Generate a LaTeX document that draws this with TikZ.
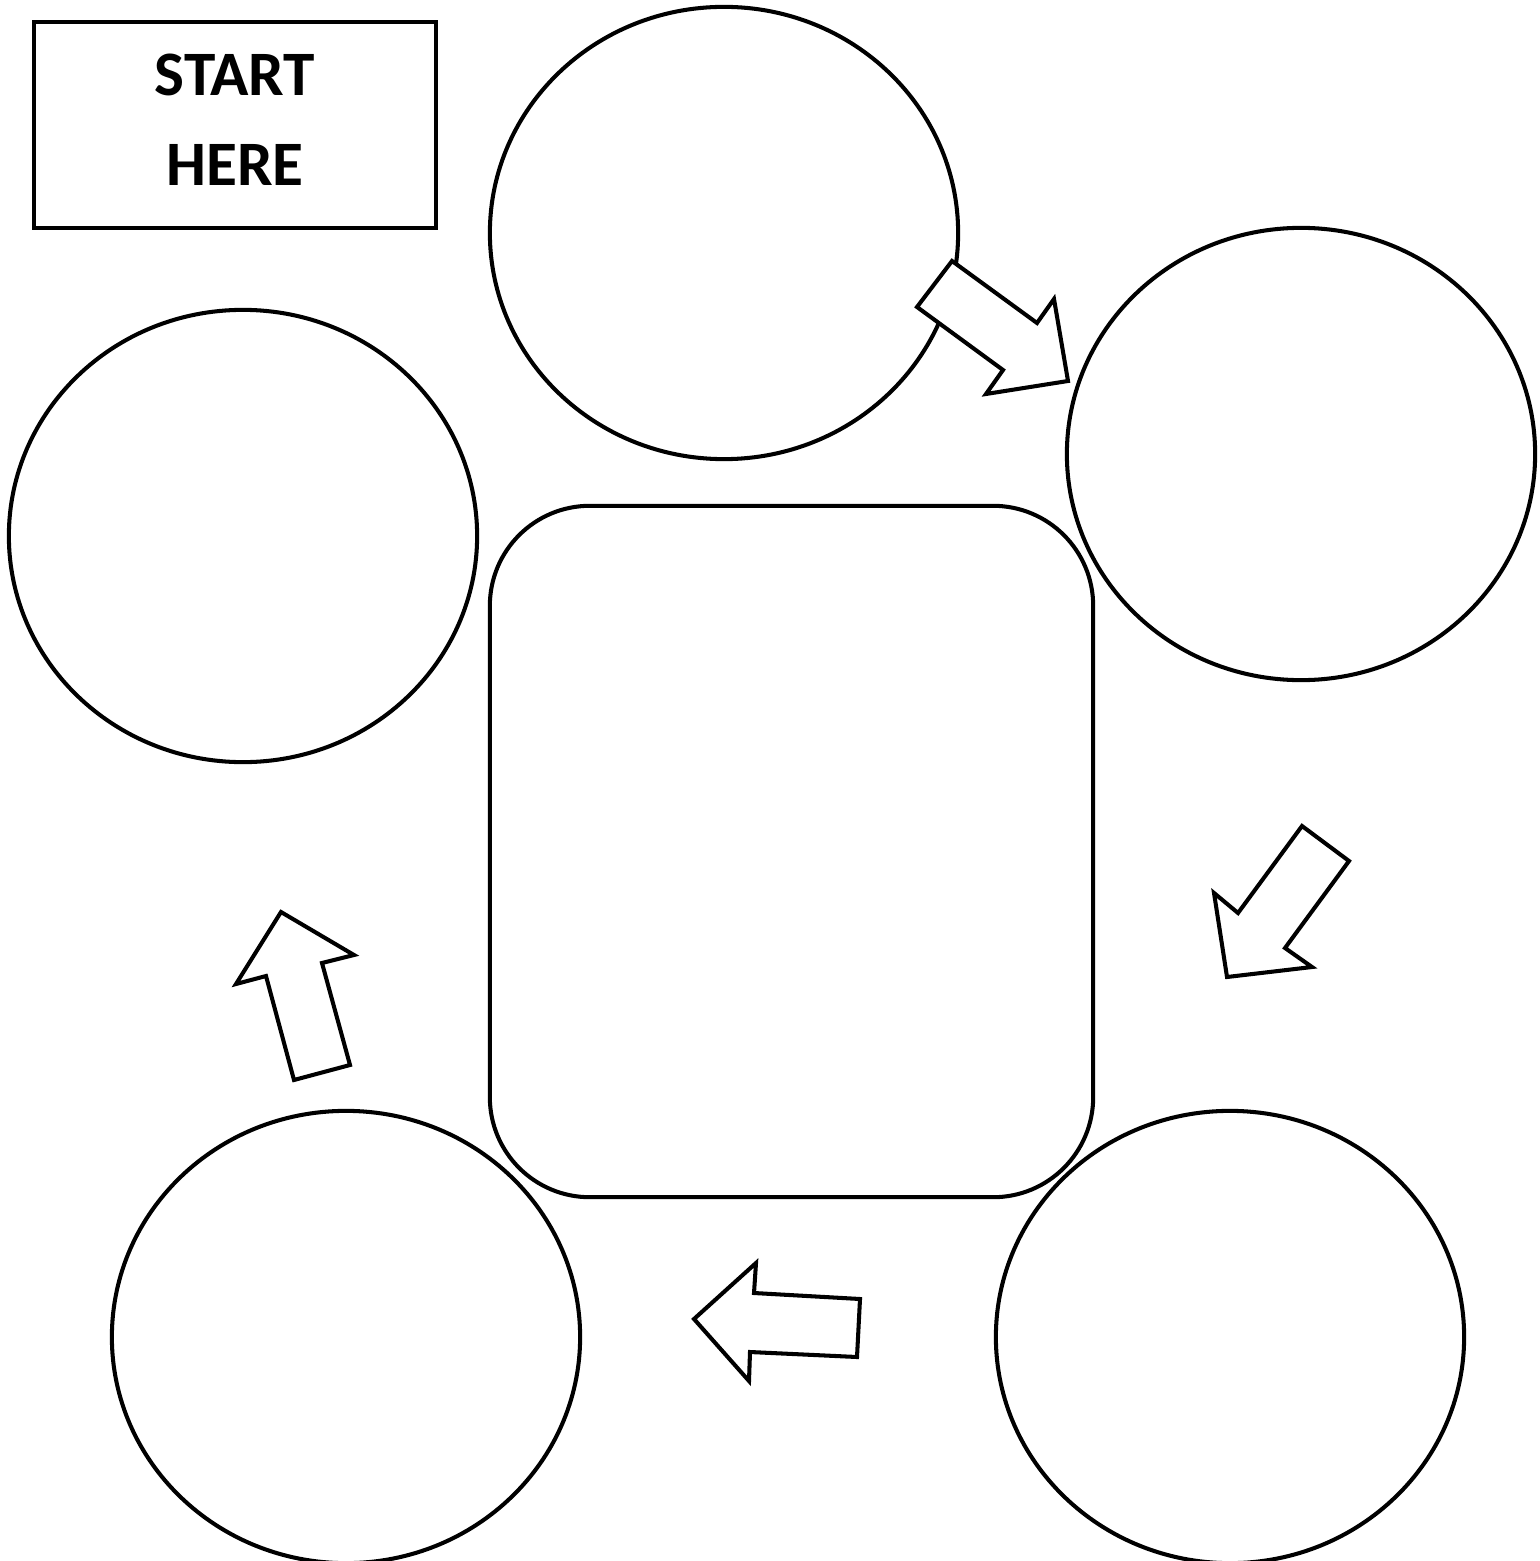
\documentclass[tikz,border=0pt]{standalone}
\usepackage{fontspec}
\setmainfont{Carlito}
\usetikzlibrary{shapes.geometric}
\tikzset{
	bubble/.style={draw, ellipse, line width=1.15pt, inner sep=0pt, minimum width=4.68cm, minimum height=4.52cm},
	blockarrow/.style={draw, fill=white, line width=1.15pt, line join=miter},
}
\begin{document}
\begin{tikzpicture}[x=0.01cm, y=-0.01cm]
		% Set the size of the page
		\useasboundingbox (0,0) rectangle (1539,1561);
		
		% Start box
		\node[draw, line width=1.15pt, minimum width=4.02cm, minimum height=2.06cm, align=center, text depth=0.1cm, font=\fontsize{18}{25.5}\selectfont\bfseries] (start) at (235,125) {START\\HERE};
		
		% The five bubbles round the middle
		\node[bubble] (top) at (724,233) {};
		\node[bubble] (right) at (1301,454) {};
		\node[bubble] (left) at (243,536) {};
		\node[bubble] (lowleft) at (346,1337) {};
		\node[bubble] (lowright) at (1230,1337) {};
		
		% Middle box
		\node[draw, line width=1.15pt, rounded corners=1cm, minimum width=6.03cm, minimum height=6.91cm] (middle) at (791.5,851.5) {};
		
		% Block arrows
		\draw[blockarrow] (952,261)--(1037,323)--(1054,299)--(1068,381)--(986,394)--(1003,370)--(917,307)--cycle;
		\draw[blockarrow] (1302,826)--(1349,861)--(1285,948)--(1312,967)--(1227,977)--(1214,893)--(1238,913)--cycle;
		\draw[blockarrow] (860,1299)--(857,1357)--(750,1352)--(749,1381)--(694,1319)--(756,1263)--(754,1293)--cycle;
		\draw[blockarrow] (350,1065)--(294,1080)--(266,976)--(236,984)--(281,912)--(354,955)--(322,963)--cycle;
	\end{tikzpicture}
\end{document}
